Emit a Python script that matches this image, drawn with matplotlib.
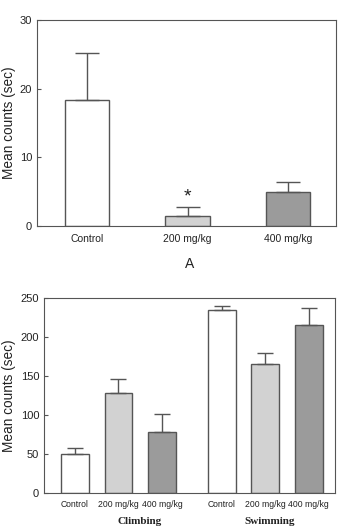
import matplotlib.pyplot as plt
import numpy as np

# Teil A
doses = ['Control', '200 mg/kg', '400 mg/kg']
means_a = [18.3, 1.5, 4.9]
errs_a = [6.9, 1.3, 1.5]

# Teil B
groups = ['Climbing', 'Swimming']
means_climb = [50, 128, 78]
errs_climb = [8, 18, 23]
means_swim = [234, 165, 215]
errs_swim = [6, 15, 22]

colors = ['white', '#d2d2d2', '#9b9b9b']
edge = '#555555'

plt.rcParams['font.family'] = ['Liberation Sans', 'DejaVu Sans']

fig = plt.figure(figsize=(3.41, 5.27), dpi=100)

# --- A ---
ax1 = fig.add_axes([37 / 341, 1 - 226 / 527, 299 / 341, 206 / 527])
x1 = np.arange(len(doses))
ax1.bar(x1, means_a, width=0.44, color=colors, edgecolor=edge, linewidth=1.0,
        yerr=[np.zeros(3), errs_a], error_kw=dict(ecolor=edge, elinewidth=1.0, capsize=8.5, capthick=1.0))
ax1.annotate('*', (x1[1], means_a[1] + errs_a[1]), xytext=(0, 1), textcoords='offset points',
             ha='center', va='bottom', fontsize=14, color='#222222')
ax1.set_xlim(-0.5, 2.48)
ax1.set_ylim(0, 30)
ax1.set_yticks([0, 10, 20, 30])
ax1.set_xticks(x1)
ax1.set_xticklabels(doses, fontsize=7.5, color='#222222')
ax1.tick_params(axis='x', length=0, pad=6)
ax1.tick_params(axis='y', direction='in', length=3, labelsize=8, labelcolor='#222222', color=edge)
ax1.set_ylabel('Mean counts (sec)', fontsize=9.8, color='#222222', labelpad=3)
for s in ax1.spines.values():
    s.set_color(edge)
fig.text(190 / 341, 1 - 264 / 527, 'A', ha='center', va='center', fontsize=10, color='#222222')

# --- B ---
ax2 = fig.add_axes([44 / 341, 1 - 493 / 527, 291 / 341, 195 / 527])
pos_c = np.arange(3)
pos_s = np.arange(3) + 3.37
ax2.bar(pos_c, means_climb, width=0.64, color=colors, edgecolor=edge, linewidth=1.0,
        yerr=[np.zeros(3), errs_climb], error_kw=dict(ecolor=edge, elinewidth=1.0, capsize=5.5, capthick=1.0))
ax2.bar(pos_s, means_swim, width=0.64, color=colors, edgecolor=edge, linewidth=1.0,
        yerr=[np.zeros(3), errs_swim], error_kw=dict(ecolor=edge, elinewidth=1.0, capsize=5.5, capthick=1.0))
ax2.set_xlim(-0.71, 5.97)
ax2.set_ylim(0, 250)
ax2.set_yticks(np.arange(0, 251, 50))
ax2.set_xticks(np.concatenate([pos_c, pos_s]))
ax2.set_xticklabels(doses * 2, fontsize=6.2, color='#222222')
ax2.tick_params(axis='x', length=0, pad=5)
ax2.tick_params(axis='y', direction='in', length=3, labelsize=8, labelcolor='#222222', color=edge)
ax2.set_ylabel('Mean counts (sec)', fontsize=9.8, color='#222222', labelpad=3)
for s in ax2.spines.values():
    s.set_color(edge)
fig.text(139.5 / 341, 1 - 521 / 527, groups[0], ha='center', va='center', fontsize=8,
         fontweight='bold', family=['Liberation Serif', 'DejaVu Serif'], color='#222222')
fig.text(270 / 341, 1 - 521 / 527, groups[1], ha='center', va='center', fontsize=8,
         fontweight='bold', family=['Liberation Serif', 'DejaVu Serif'], color='#222222')

fig.savefig('out.png', dpi=100)
